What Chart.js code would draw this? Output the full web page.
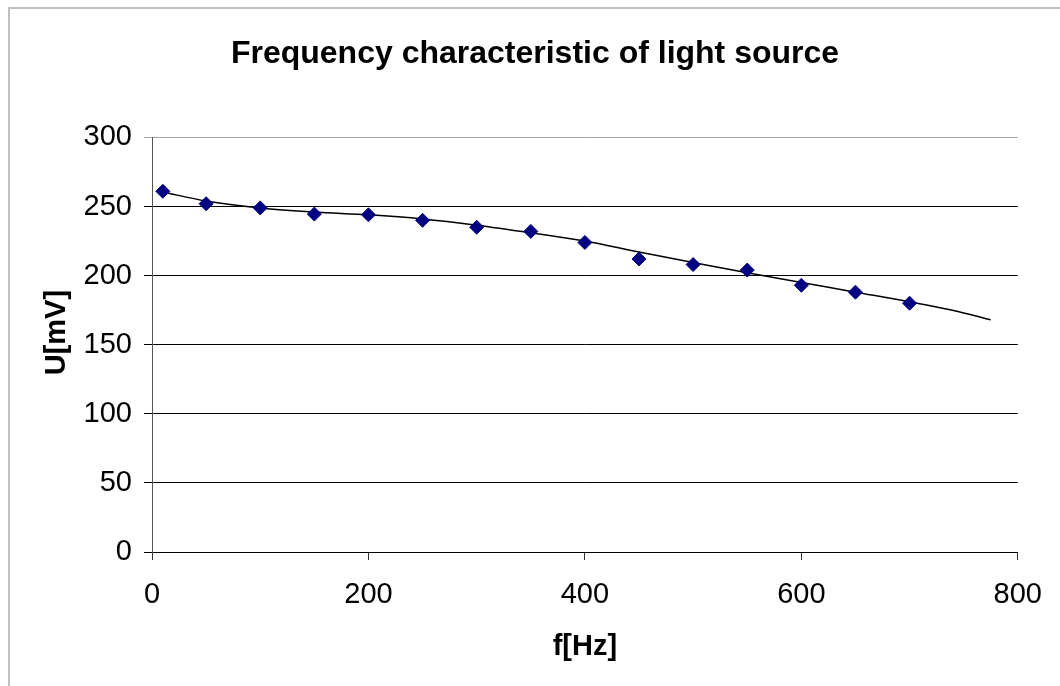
<!DOCTYPE html>
<html>
<head>
<meta charset="utf-8">
<script src="https://cdn.jsdelivr.net/npm/chart.js@4.4.1/dist/chart.umd.min.js"></script>
<style>
  body { margin: 0; background: #fff; }
  #frame { position: absolute; left: 8px; top: 7px; width: 1100px; height: 720px; border: 2px solid #c0c0c0; }
  #wrap { position: absolute; left: 0; top: 0; width: 1060px; height: 686px; }
</style>
</head>
<body>
<div id="frame"></div>
<div id="wrap"><canvas id="freqChart" width="1060" height="686"></canvas></div>
<script>
// measured points
const freqHz = [10, 50, 100, 150, 200, 250, 300, 350, 400, 450, 500, 550, 600, 650, 700];
const voltageMv = [261, 252, 249, 244.5, 244, 240, 235, 232, 224, 212, 208, 204, 193, 188, 180];

// trend line
const trendHz = [10, 50, 100, 150, 200, 250, 300, 350, 400, 450, 500, 550, 600, 650, 700, 750, 775];
const trendMv = [260.5, 254, 249, 246, 244, 241, 236.5, 231, 225, 217, 209.5, 202, 195, 188, 181, 173, 168];

const xTicks = [0, 200, 400, 600, 800];
const yTicks = [0, 50, 100, 150, 200, 250, 300];

const FONT = '"Liberation Sans", Arial, sans-serif';

const ctx = document.getElementById('freqChart').getContext('2d');

new Chart(ctx, {
    type: 'scatter',
    data: {
        datasets: [
            {
                label: 'Trend',
                data: trendHz.map((x, i) => ({ x: x, y: trendMv[i] })),
                showLine: true,
                borderColor: '#000',
                borderWidth: 1.5,
                pointRadius: 0,
                cubicInterpolationMode: 'monotone',
                order: 2
            },
            {
                label: 'U',
                data: freqHz.map((x, i) => ({ x: x, y: voltageMv[i] })),
                pointStyle: 'rectRot',
                pointRadius: 7,
                pointBackgroundColor: '#000080',
                pointBorderColor: '#000080',
                pointBorderWidth: 1,
                showLine: false,
                order: 1
            }
        ]
    },
    options: {
        responsive: false,
        animation: false,
        // left padding 50 keeps the title centred on the outer frame
        layout: { padding: { left: 50, right: 40, top: 0, bottom: 0 } },
        plugins: {
            legend: { display: false },
            tooltip: { enabled: false },
            title: {
                display: true,
                text: 'Frequency characteristic of light source',
                color: '#000',
                font: { family: FONT, size: 32, weight: 'bold' },
                padding: { top: 35, bottom: 64 }
            }
        },
        scales: {
            x: {
                type: 'linear',
                min: 0,
                max: 800,
                afterBuildTicks: scale => { scale.ticks = xTicks.map(v => ({ value: v })); },
                afterFit: scale => { scale.height = 134; },
                border: { display: true, color: '#000', width: 1 },
                grid: { drawOnChartArea: false, drawTicks: true, tickLength: 8, color: '#333' },
                ticks: { color: '#000', padding: 18, font: { family: FONT, size: 29 } },
                title: {
                    display: true,
                    text: 'f[Hz]',
                    color: '#000',
                    font: { family: FONT, size: 29, weight: 'bold' },
                    padding: { top: 0, bottom: 22 }
                }
            },
            y: {
                type: 'linear',
                min: 0,
                max: 300,
                afterBuildTicks: scale => { scale.ticks = yTicks.map(v => ({ value: v })); },
                afterFit: scale => { scale.width = 102; },
                border: { display: true, color: '#555', width: 1 },
                grid: {
                    drawTicks: true,
                    tickLength: 8,
                    color: c => (c.tick && c.tick.value === 300) ? '#a8a8a8' : '#000'
                },
                ticks: { color: '#000', padding: 12, font: { family: FONT, size: 29 } },
                title: {
                    display: true,
                    text: '   U[mV]',
                    color: '#000',
                    font: { family: FONT, size: 29, weight: 'bold' },
                    padding: { top: -10.7, bottom: 0 }
                }
            }
        }
    }
});
</script>
</body>
</html>
